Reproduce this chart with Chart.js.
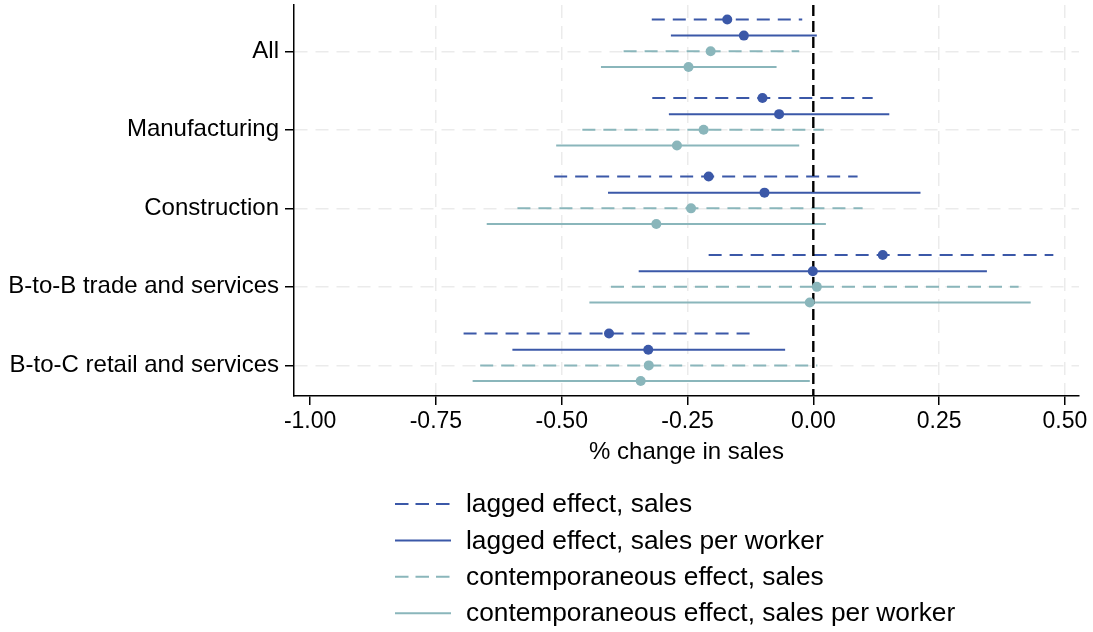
<!DOCTYPE html>
<html>
<head>
<meta charset="utf-8">
<script src="https://cdn.jsdelivr.net/npm/chart.js@4"></script>
<style>
  html, body { margin: 0; padding: 0; background: #fff; }
  #wrap { width: 1093px; height: 632px; }
</style>
</head>
<body>
<div id="wrap"><canvas id="c" width="1093" height="632"></canvas></div>
<script>
// Sector groups (top to bottom) and x-axis tick values
const categories = ['All', 'Manufacturing', 'Construction', 'B-to-B trade and services', 'B-to-C retail and services'];
const xTickValues = [-1.00, -0.75, -0.50, -0.25, 0.00, 0.25, 0.50];
const seriesLabels = [
  'lagged effect, sales',
  'lagged effect, sales per worker',
  'contemporaneous effect, sales',
  'contemporaneous effect, sales per worker'
];

// Point estimates with lower / upper confidence bounds, one entry per sector
const lagSalesEst = [-0.171, -0.101, -0.208, 0.138, -0.406];
const lagSalesLo  = [-0.321, -0.320, -0.515, -0.208, -0.695];
const lagSalesHi  = [-0.022, 0.118, 0.088, 0.477, -0.116];

const lagSpwEst = [-0.138, -0.068, -0.097, -0.001, -0.328];
const lagSpwLo  = [-0.283, -0.287, -0.408, -0.347, -0.598];
const lagSpwHi  = [0.007, 0.151, 0.213, 0.345, -0.056];

const conSalesEst = [-0.204, -0.218, -0.243, 0.007, -0.327];
const conSalesLo  = [-0.377, -0.459, -0.588, -0.402, -0.662];
const conSalesHi  = [-0.028, 0.021, 0.098, 0.408, 0.008];

const conSpwEst = [-0.248, -0.271, -0.312, -0.007, -0.343];
const conSpwLo  = [-0.422, -0.511, -0.649, -0.445, -0.677];
const conSpwHi  = [-0.073, -0.028, 0.025, 0.432, -0.007];

const FONT = "'Liberation Sans', Arial, Helvetica, sans-serif";
const DARK = '#3b58a8';
const LIGHT = '#8ab6bb';
const GRID = '#ebebeb';
const DASH = [13, 8];

// vertical offset of each series within its sector row
const rowOffsets = [-0.405, -0.2, 0, 0.2];

function makeSeries(i, est, lo, hi, color, dash) {
  return {
    label: seriesLabels[i],
    data: est.map((v, k) => ({ x: v, y: k + rowOffsets[i] })),
    ciLow: lo,
    ciHigh: hi,
    backgroundColor: color,
    borderColor: color,
    lineDash: dash,
    pointRadius: 5,
    pointBorderWidth: 0,
    showLine: false
  };
}

const datasets = [
  makeSeries(0, lagSalesEst, lagSalesLo, lagSalesHi, DARK, DASH),
  makeSeries(1, lagSpwEst, lagSpwLo, lagSpwHi, DARK, []),
  makeSeries(2, conSalesEst, conSalesLo, conSalesHi, LIGHT, DASH),
  makeSeries(3, conSpwEst, conSpwLo, conSpwHi, LIGHT, [])
];

// Confidence-interval lines and the dashed reference line at zero
const intervalPlugin = {
  id: 'intervals',
  beforeDatasetsDraw(chart) {
    const { ctx, chartArea, scales: { x, y } } = chart;
    ctx.save();
    ctx.lineWidth = 2;
    chart.data.datasets.forEach((ds) => {
      ctx.strokeStyle = ds.borderColor;
      ctx.setLineDash(ds.lineDash);
      ds.data.forEach((p, k) => {
        const py = y.getPixelForValue(p.y);
        ctx.beginPath();
        ctx.moveTo(x.getPixelForValue(ds.ciLow[k]), py);
        ctx.lineTo(x.getPixelForValue(ds.ciHigh[k]), py);
        ctx.stroke();
      });
    });
    const zx = x.getPixelForValue(0);
    ctx.strokeStyle = '#000';
    ctx.lineWidth = 2.4;
    ctx.setLineDash([11, 5]);
    ctx.beginPath();
    ctx.moveTo(zx, chartArea.top);
    ctx.lineTo(zx, chartArea.bottom);
    ctx.stroke();
    ctx.restore();
  }
};

// Stacked legend below the axis title
const legendPlugin = {
  id: 'stackLegend',
  afterDraw(chart) {
    const { ctx } = chart;
    const lineX0 = 395, lineX1 = 451, textX = 466, top = 504, step = 36.4;
    ctx.save();
    ctx.font = '26.3px ' + FONT;
    ctx.textBaseline = 'middle';
    ctx.textAlign = 'left';
    chart.data.datasets.forEach((ds, i) => {
      const ly = top + i * step;
      ctx.strokeStyle = ds.borderColor;
      ctx.lineWidth = 2;
      ctx.setLineDash(ds.lineDash.length ? [13.5, 7] : []);
      ctx.beginPath();
      ctx.moveTo(lineX0, ly);
      ctx.lineTo(lineX1, ly);
      ctx.stroke();
      ctx.fillStyle = '#000';
      ctx.fillText(ds.label, textX, ly + 1);
    });
    ctx.restore();
  }
};

new Chart(document.getElementById('c'), {
  type: 'scatter',
  data: { datasets },
  plugins: [intervalPlugin, legendPlugin],
  options: {
    responsive: false,
    animation: false,
    events: [],
    layout: { padding: { top: 2, right: 14, bottom: 165.6, left: 0 } },
    plugins: { legend: { display: false }, tooltip: { enabled: false } },
    scales: {
      x: {
        type: 'linear',
        min: -1.032,
        max: 0.528,
        afterBuildTicks: (s) => { s.ticks = xTickValues.map(v => ({ value: v })); },
        afterFit: (s) => { s.height = 70.4; s.paddingLeft = 0; s.paddingRight = 0; },
        ticks: {
          color: '#000',
          font: { family: FONT, size: 23 },
          padding: 3,
          maxRotation: 0,
          callback: (v) => Number(v).toFixed(2)
        },
        grid: {
          color: (c) => (c.tick && (c.tick.value === -1 || c.tick.value === 0)) ? 'rgba(0,0,0,0)' : GRID,
          lineWidth: 1.5,
          tickColor: '#000',
          tickLength: 9,
          tickWidth: 1.5,
          tickBorderDash: []
        },
        border: { display: true, color: '#000', width: 1.5, dash: DASH },
        title: {
          display: true,
          text: '% change in sales',
          color: '#000',
          font: { family: FONT, size: 24 },
          padding: { top: 0, bottom: 0 }
        }
      },
      y: {
        type: 'linear',
        reverse: true,
        min: -0.59,
        max: 4.39,
        afterBuildTicks: (s) => { s.ticks = categories.map((_, i) => ({ value: i })); },
        afterFit: (s) => { s.width = 294; s.paddingTop = 0; s.paddingBottom = 0; },
        ticks: {
          color: '#000',
          font: { family: FONT, size: 24 },
          padding: 6,
          callback: (v) => categories[v]
        },
        grid: {
          color: GRID,
          lineWidth: 1.5,
          tickColor: '#000',
          tickLength: 9,
          tickWidth: 1.5,
          tickBorderDash: []
        },
        border: { display: true, color: '#000', width: 1.5, dash: DASH }
      }
    }
  }
});
</script>
</body>
</html>
